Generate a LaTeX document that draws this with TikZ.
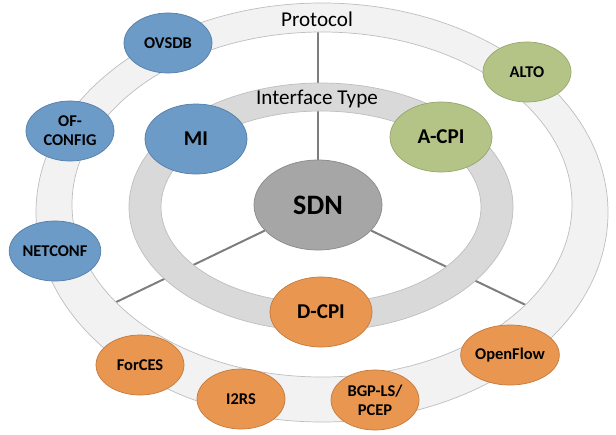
\documentclass[tikz,border=0pt]{standalone}
\usepackage{fontspec}
\setmainfont{Carlito}
\usetikzlibrary{shapes.geometric,backgrounds}
\definecolor{mgmtfill}{RGB}{108,155,199}
\definecolor{mgmtline}{RGB}{84,126,170}
\definecolor{appfill}{RGB}{180,196,135}
\definecolor{appline}{RGB}{150,166,108}
\definecolor{devfill}{RGB}{233,150,80}
\definecolor{devline}{RGB}{196,122,62}
\definecolor{corefill}{RGB}{166,166,166}
\definecolor{coreline}{RGB}{138,138,138}
\definecolor{ringin}{RGB}{217,217,217}
\definecolor{ringout}{RGB}{242,242,242}
\definecolor{ringline}{RGB}{190,190,190}
\definecolor{spokecol}{RGB}{125,125,125}

\begin{document}
\begin{tikzpicture}[x=0.025cm,y=-0.025cm,
	bubble/.style={ellipse,inner sep=0pt,line width=0.5pt,align=center,text=black},
	proto/.style={bubble,minimum width=2.2cm,minimum height=1.5cm,font=\bfseries\fontsize{11.7}{13.5}\selectfont},
	itype/.style={bubble,minimum width=2.55cm,minimum height=1.75cm,font=\bfseries\fontsize{15}{18}\selectfont},
	mgmtcol/.style={fill=mgmtfill,draw=mgmtline},
	appcol/.style={fill=appfill,draw=appline},
	devcol/.style={fill=devfill,draw=devline},
	ringlabel/.style={font=\fontsize{15}{18}\selectfont,inner sep=0pt},
	spoke/.style={draw=spokecol,line width=1.4pt}]
	\useasboundingbox (0,0) rectangle (616,434);

	\node (sdn) [bubble,fill=corefill,draw=coreline,minimum width=3.2cm,minimum height=2.25cm,font=\bfseries\fontsize{20}{24}\selectfont] at (318,205) {SDN};

	\node (mi) [itype,mgmtcol] at (196,139) {MI};
	\node (acpi) [itype,appcol] at (441,137) {A-CPI};
	\node (dcpi) [itype,devcol] at (321,312) {D-CPI};

	\node (ovsdb) [proto,mgmtcol] at (168,43) {OVSDB};
	\node (ofconfig) [proto,mgmtcol] at (70,131) {OF-\\CONFIG};
	\node (netconf) [proto,mgmtcol] at (55,251) {NETCONF};
	\node (alto) [proto,appcol] at (527,72) {ALTO};
	\node (forces) [proto,devcol] at (140,365) {ForCES};
	\node (itrs) [proto,devcol] at (241,399) {I2RS};
	\node (bgpls) [proto,devcol] at (375,400) {BGP-LS/\\PCEP};
	\node (oflow) [proto,devcol] at (510,355) {OpenFlow};

	\node (prot) [ringlabel] at (317,19) {Protocol};
	\node (itlab) [ringlabel] at (317,99) {Interface Type};

	\begin{scope}[on background layer]
	\coordinate (ptop) at (318,20);
	\coordinate (pleft) at (108,306);
	\coordinate (pright) at (532,308);
	\draw [spoke] (sdn) -- (ptop);
	\draw [spoke] (sdn) -- (pleft);
	\draw [spoke] (sdn) -- (pright);
	\filldraw [fill=ringout,draw=ringline,line width=0.5pt,even odd rule] (322,212.5) ellipse [x radius=286,y radius=209.5] (322,204.5) ellipse [x radius=250,y radius=172.5];
	\filldraw [fill=ringin,draw=ringline,line width=0.5pt,even odd rule] (321,207) ellipse [x radius=192,y radius=124] (321,207) ellipse [x radius=160,y radius=96];
	\end{scope}
\end{tikzpicture}
\end{document}
